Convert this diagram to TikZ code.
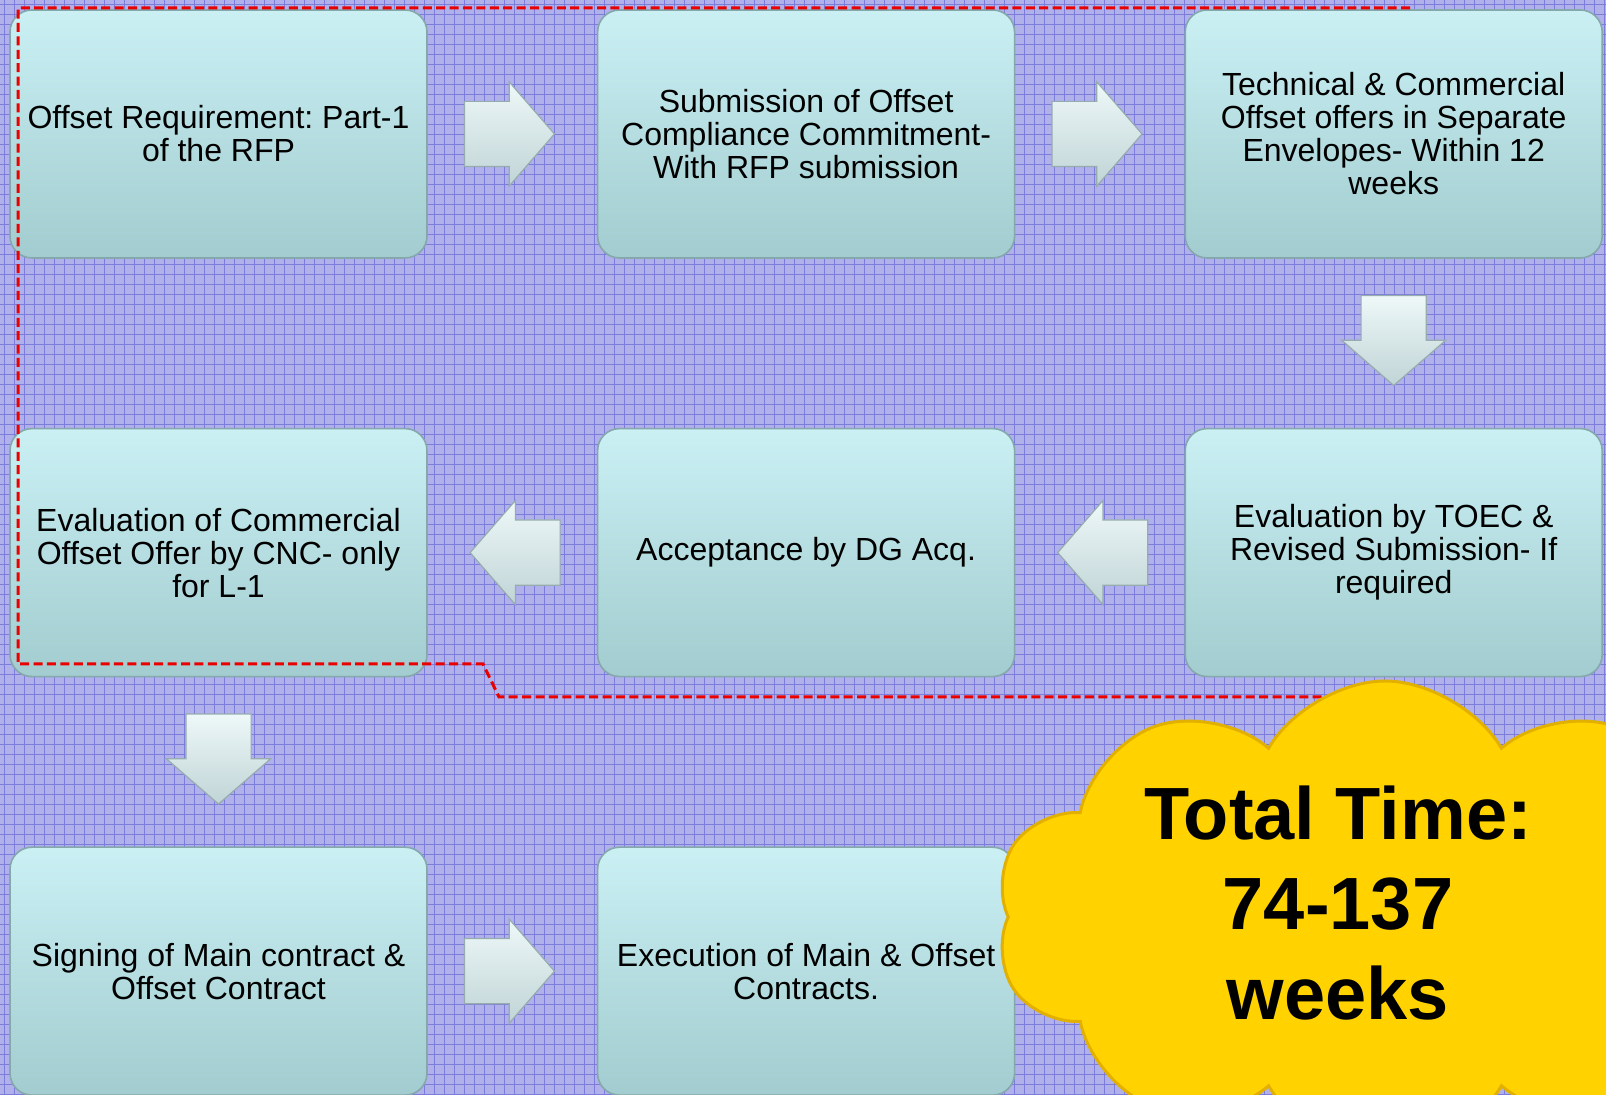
\documentclass[tikz,border=0pt]{standalone}
\usepackage{fontspec}
\setmainfont{Liberation Sans}
\usepackage{xcolor}
\usetikzlibrary{
	positioning,    % nodi relativi (right=of ...)
	calc,           % punti medi tra i blocchi
	shapes.arrows,  % frecce a blocco
	shapes.symbols  % nuvola
}
\definecolor{lavanda}{RGB}{176,176,234}
\definecolor{grigliablu}{RGB}{124,124,218}
\definecolor{cianochiaro}{RGB}{202,240,244}
\definecolor{cianoscuro}{RGB}{162,204,207}
\definecolor{bordoblocco}{RGB}{132,168,172}
\definecolor{frecciachiara}{RGB}{238,248,248}
\definecolor{frecciascura}{RGB}{192,212,214}
\definecolor{bordofreccia}{RGB}{150,172,175}
\definecolor{giallo}{RGB}{255,210,0}
\definecolor{giallobordo}{RGB}{226,176,0}
\definecolor{rosso}{RGB}{235,0,0}

\begin{document}
\begin{tikzpicture}[
	x=0.5pt, y=0.5pt,
	node distance=84.5pt and 84.5pt,
	blocco/.style={draw=bordoblocco, line width=0.8pt, rounded corners=11pt,
		top color=cianochiaro, bottom color=cianoscuro,
		minimum width=208.5pt, minimum height=124pt, inner sep=3pt,
		align=center, font=\fontsize{16}{16.5}\selectfont\frenchspacing},
	freccia/.style={single arrow, draw=bordofreccia, line width=0.6pt,
		top color=frecciachiara, bottom color=frecciascura,
		minimum height=45pt,
		single arrow head extend=9.75pt, single arrow tip angle=98},
	% Frecce nelle tre direzioni
	frecciadx/.style={freccia, inner xsep=0pt, inner ysep=16pt, xshift=-8.5pt},
	frecciasx/.style={freccia, inner xsep=0pt, inner ysep=16pt, xshift=8.5pt,
		shape border rotate=180},
	frecciagiu/.style={freccia, inner xsep=16pt, inner ysep=0pt, yshift=8.5pt,
		shape border rotate=270},
	griglia/.style={grigliablu, line width=0.45pt},
	% Stile per il contorno tratteggiato
	contorno/.style={rosso, line width=1.5pt, dash pattern=on 4.5pt off 2.2pt},
	nuvola/.style={cloud, cloud puffs=10, cloud puff arc=120, aspect=1.5,
		fill=giallo, draw=giallobordo, line width=1.5pt,
		minimum width=390pt, minimum height=236pt},
	testonuvola/.style={align=center, font=\fontsize{37}{45}\selectfont\bfseries}
	]
	
	\useasboundingbox (0,0) rectangle (1606,1095);
	\clip (0,0) rectangle (1606,1095);
	
	% --- Sfondo a griglia ---
	\fill[lavanda] (0,0) rectangle (1606,1095);
	\foreach \x in {4,14,...,1604}
	\draw[griglia] (\x,0) -- (\x,1095);
	\foreach \y in {1,11,...,1091}
	\draw[griglia] (0,\y) -- (1606,\y);
	
	% --- Blocchi ---
	\node[blocco] (req) at (218.5,961) {Offset Requirement: Part-1\\of the RFP};
	\node[blocco, right=of req] (commit) {Submission of Offset\\Compliance Commitment-\\With RFP submission};
	\node[blocco, right=of commit] (offerte) {Technical \& Commercial\\Offset offers in Separate\\Envelopes- Within 12\\weeks};
	\node[blocco, below=of offerte] (toec) {Evaluation by TOEC \&\\Revised Submission- If\\required};
	\node[blocco, left=of toec] (dgacq) {Acceptance by DG Acq.};
	\node[blocco, left=of dgacq] (cnc) {Evaluation of Commercial\\Offset Offer by CNC- only\\for L-1};
	\node[blocco, below=of cnc] (firma) {Signing of Main contract \&\\Offset Contract};
	\node[blocco, right=of firma] (esec) {Execution of Main \& Offset\\Contracts.};
	
	% --- Frecce a blocco ---
	\node[frecciadx] (f1) at ($(req.east)!0.5!(commit.west)$) {};
	\node[frecciadx] (f2) at ($(commit.east)!0.5!(offerte.west)$) {};
	\node[frecciagiu] (f3) at ($(offerte.south)!0.5!(toec.north)$) {};
	\node[frecciasx] (f4) at ($(toec.west)!0.5!(dgacq.east)$) {};
	\node[frecciasx] (f5) at ($(dgacq.west)!0.5!(cnc.east)$) {};
	\node[frecciagiu] (f6) at ($(cnc.south)!0.5!(firma.north)$) {};
	\node[frecciadx] (f7) at ($(firma.east)!0.5!(esec.west)$) {};
	
	% --- Contorno rosso tratteggiato ---
	\coordinate (c_inizio) at (1410,1087);
	\coordinate (c_fine) at (1400,398);
	\draw[contorno] (c_inizio) -- (18,1087) -- (18,431) -- (483,431)
	-- (499,398) -- (c_fine);
	
	% --- Nuvola con il tempo totale ---
	\node[nuvola] (tempo) at (1385,178) {};
	\node[testonuvola] (totale) at (1338,192) {Total Time:\\74-137\\weeks};
	
\end{tikzpicture}
\end{document}
